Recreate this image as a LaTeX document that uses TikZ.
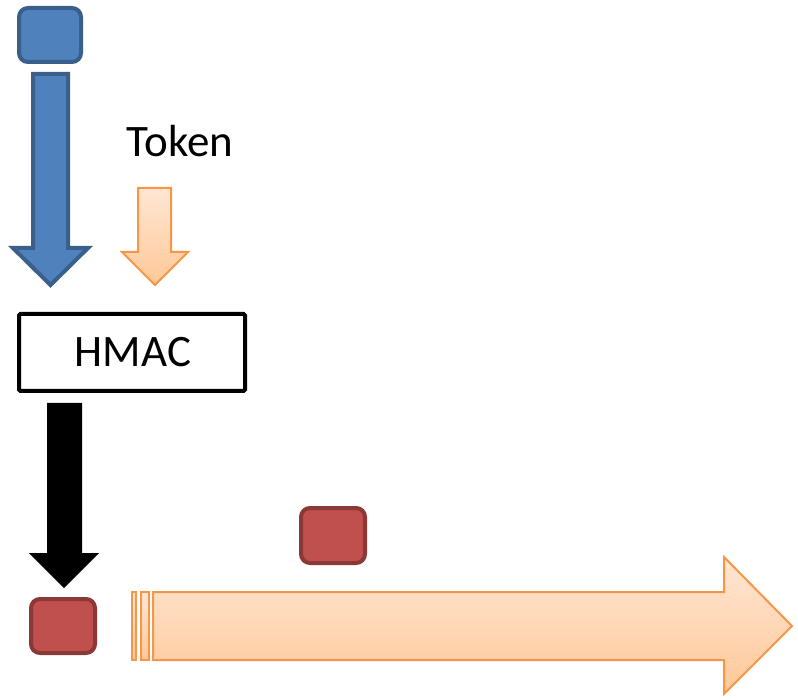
\documentclass[tikz,border=0pt]{standalone}
\usepackage{fontspec}
\setmainfont{Carlito}
\definecolor{bluefill}{HTML}{4F81BD}
\definecolor{blueline}{HTML}{3A5F8B}
\definecolor{redfill}{HTML}{C0504D}
\definecolor{redline}{HTML}{8C3836}
\definecolor{orline}{HTML}{F79646}
\definecolor{ortop}{HTML}{FFE6D4}
\definecolor{orbot}{HTML}{FFC898}
\tikzset{
  bluesq/.style={draw=blueline, fill=bluefill, line width=4pt, rounded corners=9pt},
  redsq/.style={draw=redline, fill=redfill, line width=4pt, rounded corners=9pt},
  bluearrow/.style={draw=blueline, fill=bluefill, line width=4pt, line join=miter},
  orarrow/.style={draw=orline, top color=ortop, bottom color=orbot, line width=2pt, line join=miter},
  blackarrow/.style={fill=black},
  hmacbox/.style={draw=black, fill=white, line width=4pt, rounded corners=1.5pt},
  lbl/.style={font=\fontsize{45}{50}\selectfont, inner sep=0pt}
}
\begin{document}
\begin{tikzpicture}[x=1pt, y=-1pt]
\useasboundingbox (0,0) rectangle (798,700);
% blue square
\draw[bluesq] (19,8) rectangle (81,62);
\coordinate (bluesq) at (50,35);
% blue arrow
\draw[bluearrow] (33,74) -- (68,74) -- (68,248) -- (88,248) -- (50.5,285) -- (13,248) -- (33,248) -- cycle;
% token label
\node[lbl, anchor=base] (token) at (180,157) {Token};
% orange small arrow
\draw[orarrow] (138,188) -- (171,188) -- (171,252) -- (188,252) -- (155,285) -- (122,252) -- (138,252) -- cycle;
% HMAC box
\draw[hmacbox] (19,314) rectangle (245,391);
\node[lbl, anchor=base] (hmac) at (133,367) {HMAC};
% black arrow
\fill[blackarrow] (47,403) -- (82,403) -- (82,553) -- (99,553) -- (64,588) -- (29,553) -- (47,553) -- cycle;
% red squares
\draw[redsq] (31,599) rectangle (95,653);
\draw[redsq] (301,508) rectangle (365,563);
% striped big arrow
\draw[orarrow, line width=1.5pt] (132,592) rectangle (136,660);
\draw[orarrow, line width=1.5pt] (141,592) rectangle (149,660);
\draw[orarrow] (153,592) -- (724,592) -- (724,557) -- (792,626) -- (724,694) -- (724,660) -- (153,660) -- cycle;
\end{tikzpicture}
\end{document}
